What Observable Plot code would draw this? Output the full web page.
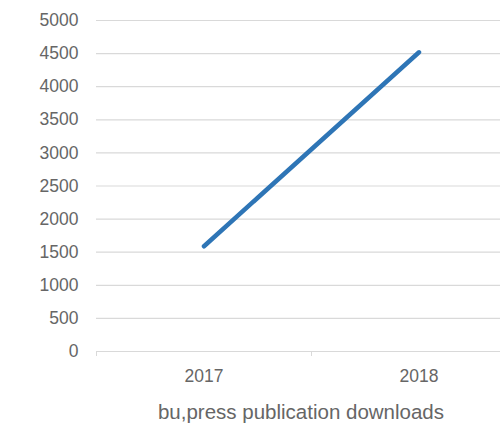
<!DOCTYPE html>
<html>
<head>
<meta charset="utf-8">
<script src="https://cdn.jsdelivr.net/npm/d3@7"></script>
<script src="https://cdn.jsdelivr.net/npm/@observablehq/plot@0.6"></script>
<style>
  html, body { margin: 0; padding: 0; background: #fff; width: 500px; height: 428px; overflow: hidden; }
  #chart { width: 500px; overflow: hidden; }
  #chart svg { max-width: none !important; width: 526px; height: 392px; }
  #caption { font-family: "Liberation Sans", Helvetica, Arial, sans-serif; font-size: 20.5px; color: #666; position: absolute; top: 400px; left: 0; width: 602px; text-align: center; }
</style>
</head>
<body>
<div id="chart"></div>
<div id="caption">bu,press publication downloads</div>
<script>
const years = [2017, 2018];
const downloads = [1590, 4520];
const yTicks = [0, 500, 1000, 1500, 2000, 2500, 3000, 3500, 4000, 4500, 5000];

const data = years.map((y, i) => ({year: y, value: downloads[i]}));
const bounds = [...years.map(y => y - 0.5), years[years.length - 1] + 0.5];

const chart = Plot.plot({
  width: 526,
  height: 392,
  marginLeft: 96,
  marginRight: 0,
  marginTop: 20,
  marginBottom: 41,
  style: { fontFamily: "Liberation Sans, Helvetica, Arial, sans-serif", fontSize: "17px", color: "#666", background: "#fff", maxWidth: "none" },
  x: { type: "linear", domain: [bounds[0], bounds[bounds.length - 1]] },
  y: { domain: [0, 5000] },
  marks: [
    Plot.gridY(yTicks, { stroke: "#d9d9d9", strokeOpacity: 1, strokeWidth: 1.2 }),
    Plot.axisY(yTicks, { tickSize: 0, tickPadding: 18, label: null, fill: "#666", fontSize: 17.5, tickFormat: d => String(d) }),
    Plot.ruleY([0], { stroke: "#d9d9d9", strokeWidth: 1.2 }),
    Plot.axisX(bounds, { tickSize: 5, tickFormat: () => "", label: null, stroke: "#d9d9d9" }),
    Plot.axisX(years, { tickSize: 0, tickPadding: 18, tickFormat: d => String(d), label: null, fill: "#666", fontSize: 17.5 }),
    Plot.line(data, { x: "year", y: "value", stroke: "#2e75b6", strokeWidth: 4.5, strokeLinecap: "round" })
  ]
});
document.getElementById("chart").appendChild(chart);
</script>
</body>
</html>
